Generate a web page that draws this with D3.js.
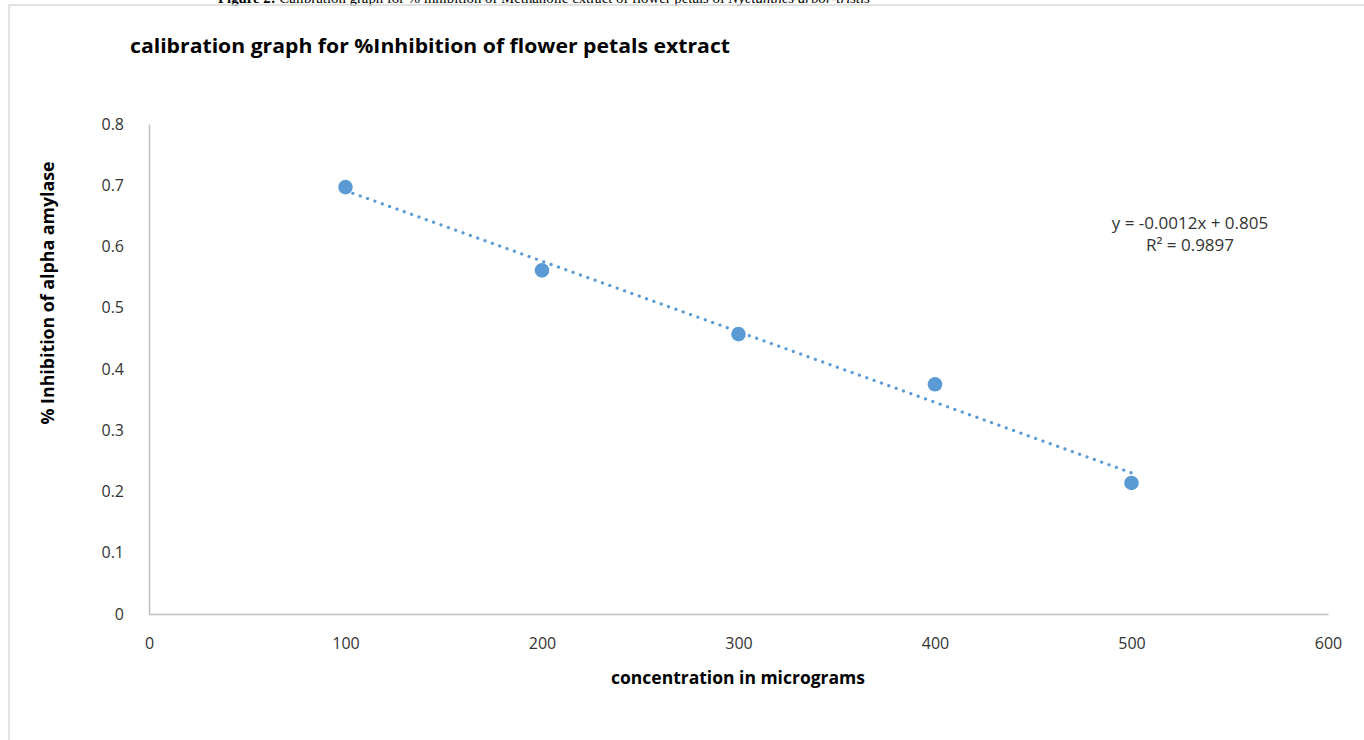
<!DOCTYPE html>
<html>
<head>
<meta charset="utf-8">
<script src="https://cdn.jsdelivr.net/npm/d3@7"></script>
<style>
  body { margin: 0; background: #fff; }
  svg { display: block; }
</style>
</head>
<body>
<div id="chart-area"></div>
<script>
// values
var concentration = [100, 200, 300, 400, 500]
var inhibition = [0.697, 0.561, 0.457, 0.375, 0.214]
var xTicks = [0, 100, 200, 300, 400, 500, 600]
var yTicks = [0, 0.1, 0.2, 0.3, 0.4, 0.5, 0.6, 0.7, 0.8]
var equationLines = ['y = -0.0012x + 0.805', 'R\u00b2 = 0.9897']

var chartTitle = 'calibration graph for %Inhibition of flower petals extract'
var xTitle = 'concentration in micrograms'
var yTitle = '% Inhibition of alpha amylase'

var W = 1364
var H = 740
var blue = '#5B9BD5'
var axisGrey = '#BFBFBF'
var textDark = '#333333'
var narrowFont = 'Liberation Sans Narrow, Open Sans, sans-serif'

var svg = d3.select('#chart-area')
  .append('svg')
  .attr('width', W)
  .attr('height', H)

// caption of the page, cut off at the top
var caption = svg.append('text')
  .attr('x', 218)
  .attr('y', 3)
  .attr('font-family', 'Liberation Serif, serif')
  .attr('font-size', 14)
  .attr('fill', '#000')
  .attr('textLength', 652)
  .attr('lengthAdjust', 'spacingAndGlyphs')
caption.append('tspan').attr('font-weight', 'bold').text('Figure 2: ')
caption.append('tspan').text('Calibration graph for % inhibition of Methanolic extract of flower petals of ')
caption.append('tspan').attr('font-style', 'italic').text('Nyctanthes arbor-tristis')

// chart frame (only top and left edges show)
svg.append('path')
  .attr('d', 'M9,740V5H1364')
  .attr('fill', 'none')
  .attr('stroke', '#D9D9D9')
  .attr('stroke-width', 1.5)

var x = d3.scaleLinear().domain([0, 600]).range([149, 1328])
var y = d3.scaleLinear().domain([0, 0.8]).range([614, 124])

var yAxis = svg.append('g')
  .attr('transform', 'translate(' + x(0) + ',0)')
  .call(d3.axisLeft(y)
    .tickValues(yTicks)
    .tickSize(0)
    .tickSizeOuter(0)
    .tickPadding(25)
    .tickFormat(function (d) { return d === 0 ? '0' : d3.format('.1f')(d) }))

var xAxis = svg.append('g')
  .attr('transform', 'translate(0,' + y(0) + ')')
  .call(d3.axisBottom(x)
    .tickValues(xTicks)
    .tickSize(0)
    .tickSizeOuter(0)
    .tickPadding(24)
    .tickFormat(d3.format('d')))

;[xAxis, yAxis].forEach(function (g) {
  g.select('.domain').attr('stroke', axisGrey).attr('stroke-width', 1.5)
  g.selectAll('text')
    .attr('font-family', 'Open Sans, sans-serif')
    .attr('font-size', 16)
    .attr('fill', textDark)
})

// linear trendline fitted to the points
var mx = d3.mean(concentration)
var my = d3.mean(inhibition)
var sxy = d3.sum(concentration, function (c, i) { return (c - mx) * (inhibition[i] - my) })
var sxx = d3.sum(concentration, function (c) { return (c - mx) * (c - mx) })
var slope = sxy / sxx
var intercept = my - slope * mx
var xMin = d3.min(concentration)
var xMax = d3.max(concentration)

svg.append('line')
  .attr('x1', x(xMin))
  .attr('y1', y(intercept + slope * xMin))
  .attr('x2', x(xMax))
  .attr('y2', y(intercept + slope * xMax))
  .attr('stroke', blue)
  .attr('stroke-width', 3.2)
  .attr('stroke-linecap', 'round')
  .attr('stroke-dasharray', '0.1,7.7')

svg.append('g')
  .selectAll('circle')
  .data(concentration)
  .enter().append('circle')
  .attr('cx', function (d) { return x(d) })
  .attr('cy', function (d, i) { return y(inhibition[i]) })
  .attr('r', 7.3)
  .attr('fill', blue)

// equation label
var eq = svg.append('text')
  .attr('font-family', 'Open Sans, sans-serif')
  .attr('font-size', 17)
  .attr('fill', textDark)
  .attr('text-anchor', 'middle')
eq.selectAll('tspan')
  .data(equationLines)
  .enter().append('tspan')
  .attr('x', 1190)
  .attr('y', function (d, i) { return 229 + i * 22 })
  .text(function (d) { return d })

// titles
svg.append('text')
  .attr('x', 130)
  .attr('y', 53)
  .attr('font-family', 'Open Sans, sans-serif')
  .attr('font-weight', 'bold')
  .attr('font-size', 20)
  .attr('fill', '#000')
  .attr('textLength', 600)
  .attr('lengthAdjust', 'spacingAndGlyphs')
  .text(chartTitle)

svg.append('text')
  .attr('x', 738)
  .attr('y', 684)
  .attr('text-anchor', 'middle')
  .attr('font-family', narrowFont)
  .attr('font-weight', 'bold')
  .attr('font-size', 17)
  .attr('fill', '#000')
  .attr('textLength', 254)
  .attr('lengthAdjust', 'spacingAndGlyphs')
  .text(xTitle)

svg.append('text')
  .attr('transform', 'translate(54,293) rotate(-90)')
  .attr('text-anchor', 'middle')
  .attr('font-family', narrowFont)
  .attr('font-weight', 'bold')
  .attr('font-size', 17)
  .attr('fill', '#000')
  .attr('textLength', 263)
  .attr('lengthAdjust', 'spacingAndGlyphs')
  .text(yTitle)
</script>
</body>
</html>
